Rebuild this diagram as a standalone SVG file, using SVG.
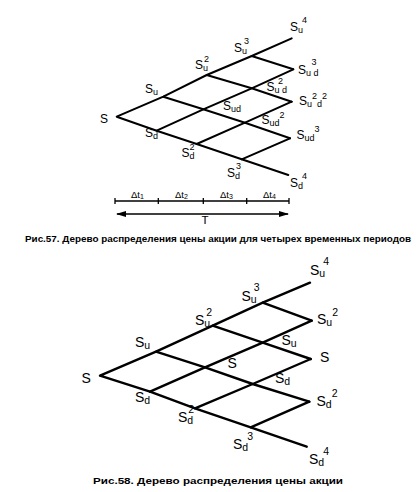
<svg xmlns="http://www.w3.org/2000/svg" width="418" height="492" viewBox="0 0 418 492">
<defs>
<style>
.ln{stroke:#000;stroke-width:2;fill:none;stroke-linecap:round;stroke-linejoin:round}
.ln2{stroke:#000;stroke-width:2.4;fill:none;stroke-linecap:round;stroke-linejoin:round}
.thin{stroke:#000;stroke-width:1.3;fill:none}
text{font-family:"Liberation Sans",Arial,sans-serif;fill:#000}
.a{font-size:12px}
.b{font-size:14px}
.s{font-size:9px}
.s2{font-size:10.5px}
.cap{font-size:9.5px;font-weight:bold}
.dt{font-size:9.5px}
</style>
<marker id="ar" viewBox="0 0 10 6" refX="9" refY="3" markerWidth="10" markerHeight="6" markerUnits="userSpaceOnUse" orient="auto-start-reverse">
<path d="M0,0 L10,3 L0,6 Z" fill="#000"/>
</marker>
</defs>

<g id="connectors">
<!-- top tree -->
<polyline class="ln" points="291.7,38.3 251.7,56 206.7,75 163.3,96.7 116.7,116.7 156.7,130.7 196.7,144 241.7,159.3 288.3,175"/>
<polyline class="ln" points="163.3,96.7 203.3,109.3 245,122.7 290,138.3"/>
<polyline class="ln" points="206.7,75 251.7,88.3 291.7,101.7"/>
<polyline class="ln" points="251.7,56 293.3,69.3"/>
<polyline class="ln" points="156.7,130.7 203.3,109.3 251.7,88.3 293.3,69.3"/>
<polyline class="ln" points="196.7,144 245,122.7 291.7,101.7"/>
<polyline class="ln" points="241.7,159.3 290,138.3"/>
<!-- bottom tree -->
<polyline class="ln2" points="310,282.7 262.7,302.7 212.7,325.7 156,351.7 100,375.7 150,391.7 195,408.3 250.7,427.3 306.7,446.7"/>
<polyline class="ln2" points="156,351.7 205,367.3 252.7,384 309.3,401.7"/>
<polyline class="ln2" points="212.7,325.7 262.7,342.7 310.7,359"/>
<polyline class="ln2" points="262.7,302.7 311.7,320.7"/>
<polyline class="ln2" points="150,391.7 205,367.3 262.7,342.7 311.7,320.7"/>
<polyline class="ln2" points="195,408.3 252.7,384 310.7,359"/>
<polyline class="ln2" points="250.7,427.3 309.3,401.7"/>
</g>

<g id="timeline">
<line class="thin" x1="115" y1="201" x2="289" y2="201"/>
<line class="thin" x1="115" y1="198" x2="115" y2="204"/>
<line class="thin" x1="158.3" y1="198" x2="158.3" y2="204"/>
<line class="thin" x1="203.3" y1="198" x2="203.3" y2="204"/>
<line class="thin" x1="246.7" y1="198" x2="246.7" y2="204"/>
<line class="thin" x1="289" y1="198" x2="289" y2="204"/>
<text class="dt" x="131" y="197.5">Δt<tspan font-size="7" dy="1">1</tspan></text>
<text class="dt" x="175" y="197.5">Δt<tspan font-size="7" dy="1">2</tspan></text>
<text class="dt" x="220" y="197.5">Δt<tspan font-size="7" dy="1">3</tspan></text>
<text class="dt" x="263" y="197.5">Δt<tspan font-size="7" dy="1">4</tspan></text>
<line class="thin" x1="117" y1="214" x2="288" y2="214" marker-start="url(#ar)" marker-end="url(#ar)"/>
<text x="201.5" y="224" font-size="11.5">T</text>
</g>

<!-- top tree labels -->
<g id="t-S"><text class="a" x="100" y="122.5">S</text></g>
<g id="t-Su"><text class="a" x="145" y="93">S<tspan class="s" dy="2">u</tspan></text></g>
<g id="t-Su2"><text class="a" x="195" y="68.5">S<tspan class="s" dy="2">u</tspan><tspan class="s" dx="-4" dy="-9">2</tspan></text></g>
<g id="t-Su3"><text class="a" x="234" y="52">S<tspan class="s" dy="2">u</tspan><tspan class="s" dx="-3" dy="-10">3</tspan></text></g>
<g id="t-Su4"><text class="a" x="290" y="31">S<tspan class="s" dy="2">u</tspan><tspan class="s" dx="-1" dy="-10">4</tspan></text></g>
<g id="t-Sd"><text class="a" x="145" y="136.5">S<tspan class="s" dy="2">d</tspan></text></g>
<g id="t-Sd2"><text class="a" x="181.5" y="156.5">S<tspan class="s" dy="2">d</tspan><tspan class="s" dx="-5" dy="-9">2</tspan></text></g>
<g id="t-Sd3"><text class="a" x="227" y="176.5">S<tspan class="s" dy="2">d</tspan><tspan class="s" dx="-4" dy="-10">3</tspan></text></g>
<g id="t-Sd4"><text class="a" x="290" y="187">S<tspan class="s" dy="2">d</tspan><tspan class="s" dx="-1" dy="-10">4</tspan></text></g>
<g id="t-Sud"><text class="a" x="223" y="110">S<tspan class="s" dy="2">ud</tspan></text></g>
<g id="t-Su2d-inner"><text class="a" x="266.5" y="91">S<tspan class="s" dy="2">u d</tspan><tspan class="s" dx="-9" dy="-9">2</tspan></text></g>
<g id="t-Sud2"><text class="a" x="261.5" y="123.5">S<tspan class="s" dy="2">ud</tspan><tspan class="s" dx="0" dy="-8">2</tspan></text></g>
<g id="t-Su3d"><text class="a" x="298" y="73.5">S<tspan class="s" dy="2">u d</tspan><tspan class="s" dx="-7" dy="-11">3</tspan></text></g>
<g id="t-Su2d2"><text class="a" x="299" y="105">S<tspan class="s" dy="2">u</tspan><tspan class="s" dy="-8">2</tspan><tspan class="s" dy="8">d</tspan><tspan class="s" dy="-8">2</tspan></text></g>
<g id="t-Sud3"><text class="a" x="296.5" y="138.5">S<tspan class="s" dy="2">ud</tspan><tspan class="s" dx="0" dy="-9">3</tspan></text></g>

<text class="cap" x="25" y="242" textLength="386" lengthAdjust="spacingAndGlyphs">Рис.57. Дерево распределения цены акции для четырех временных периодов</text>

<!-- bottom tree labels -->
<g id="b-S"><text class="b" x="81.5" y="383">S</text></g>
<g id="b-Su"><text class="b" x="135" y="347">S<tspan class="s2" dy="2">u</tspan></text></g>
<g id="b-Su2"><text class="b" x="195" y="324.5">S<tspan class="s2" dy="2">u</tspan><tspan class="s2" dx="-4" dy="-11">2</tspan></text></g>
<g id="b-Su3"><text class="b" x="241.5" y="300.5">S<tspan class="s2" dy="2">u</tspan><tspan class="s2" dx="-3" dy="-12">3</tspan></text></g>
<g id="b-Su4"><text class="b" x="310" y="275">S<tspan class="s2" dy="2">u</tspan><tspan class="s2" dx="-2" dy="-12">4</tspan></text></g>
<g id="b-Su2r"><text class="b" x="317" y="323.5">S<tspan class="s2" dy="2">u</tspan><tspan class="s2" dx="0" dy="-10">2</tspan></text></g>
<g id="b-Su-in"><text class="b" x="281.5" y="344.5">S<tspan class="s2" dy="2">u</tspan></text></g>
<g id="b-S-in"><text class="b" x="227.5" y="367.5">S</text></g>
<g id="b-S-r"><text class="b" x="320" y="362">S</text></g>
<g id="b-Sd-in"><text class="b" x="275" y="383">S<tspan class="s2" dy="2">d</tspan></text></g>
<g id="b-Sd2r"><text class="b" x="316.5" y="406">S<tspan class="s2" dy="2">d</tspan><tspan class="s2" dx="0" dy="-11">2</tspan></text></g>
<g id="b-Sd"><text class="b" x="135" y="402">S<tspan class="s2" dy="2">d</tspan></text></g>
<g id="b-Sd2"><text class="b" x="178" y="422">S<tspan class="s2" dy="2">d</tspan><tspan class="s2" dx="-5" dy="-11">2</tspan></text></g>
<g id="b-Sd3"><text class="b" x="233" y="448.5">S<tspan class="s2" dy="2">d</tspan><tspan class="s2" dx="-1" dy="-11">3</tspan></text></g>
<g id="b-Sd4"><text class="b" x="309" y="463.5">S<tspan class="s2" dy="2">d</tspan><tspan class="s2" dx="-1" dy="-11">4</tspan></text></g>

<text class="cap" x="93" y="484" textLength="250" lengthAdjust="spacingAndGlyphs">Рис.58. Дерево распределения цены акции</text>
</svg>
